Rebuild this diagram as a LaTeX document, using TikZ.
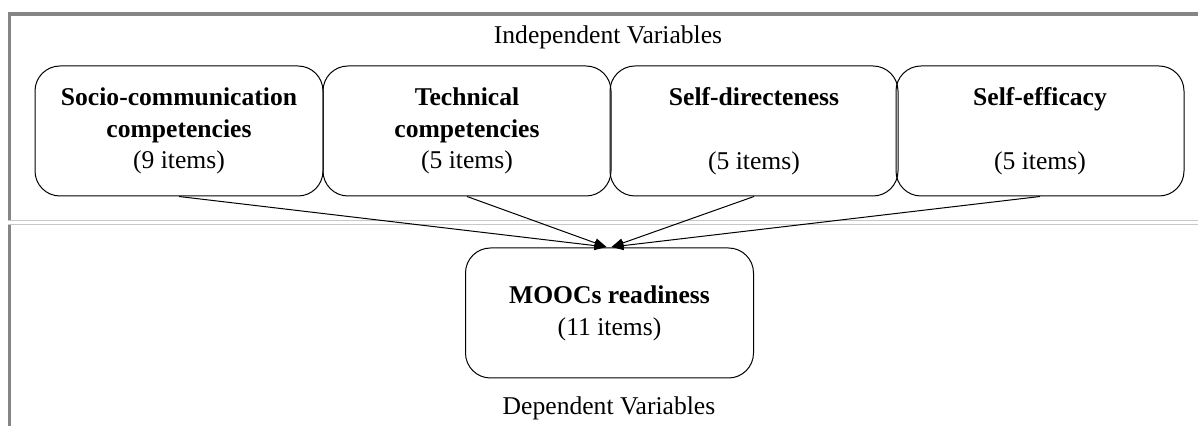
\documentclass[tikz,border=0pt]{standalone}
\usepackage{fontspec}
\setmainfont{Liberation Serif}
\usetikzlibrary{arrows.meta}
\definecolor{framegray}{HTML}{858585}
\definecolor{sepgray}{HTML}{C8C8C8}
\tikzset{
  varbox/.style={draw=black, line width=0.5pt, rounded corners=12.5pt, rectangle,
    minimum width=144pt, minimum height=65pt, inner sep=0pt, align=center,
    font=\fontsize{12.8}{15.9}\selectfont},
  lbl/.style={inner sep=0pt, font=\fontsize{12.8}{15.9}\selectfont},
  arr/.style={draw=black, line width=0.5pt, -{Triangle[length=6pt,width=4.5pt]}}
}
\begin{document}
\begin{tikzpicture}[x=0.5pt,y=-0.5pt]
\useasboundingbox (0,0) rectangle (1198,426);
% frame
\draw[framegray, line width=1.8pt] (1198,14.3) -- (9.3,14.3) -- (9.3,426);
% separator double line
\draw[sepgray, line width=0.5pt, double=white, double distance=1.3pt] (8,222.5) -- (1198,222.5);
% labels
\node[lbl] (indep) at (608,37) {Independent Variables};
\node[lbl] (dep) at (609,408) {Dependent Variables};
% boxes
\node[varbox] (b1) at (179,131) {\textbf{Socio-communication}\\\textbf{competencies}\\(9 items)};
\node[varbox] (b2) at (467,131) {\textbf{Technical}\\\textbf{competencies}\\(5 items)};
\node[varbox] (b3) at (754,131) {\textbf{Self-directeness}\\\strut\\(5 items)};
\node[varbox] (b4) at (1040,131) {\textbf{Self-efficacy}\\\strut\\(5 items)};
\node[varbox] (m) at (609.5,313) {\textbf{MOOCs readiness}\\(11 items)};
% arrow targets
\coordinate (tipL) at (606.5,247);
\coordinate (tipR) at (611.5,247);
\draw[arr] (b1.south) -- (tipL);
\draw[arr] (b2.south) -- (tipL);
\draw[arr] (b3.south) -- (tipR);
\draw[arr] (b4.south) -- (tipR);
\end{tikzpicture}
\end{document}
